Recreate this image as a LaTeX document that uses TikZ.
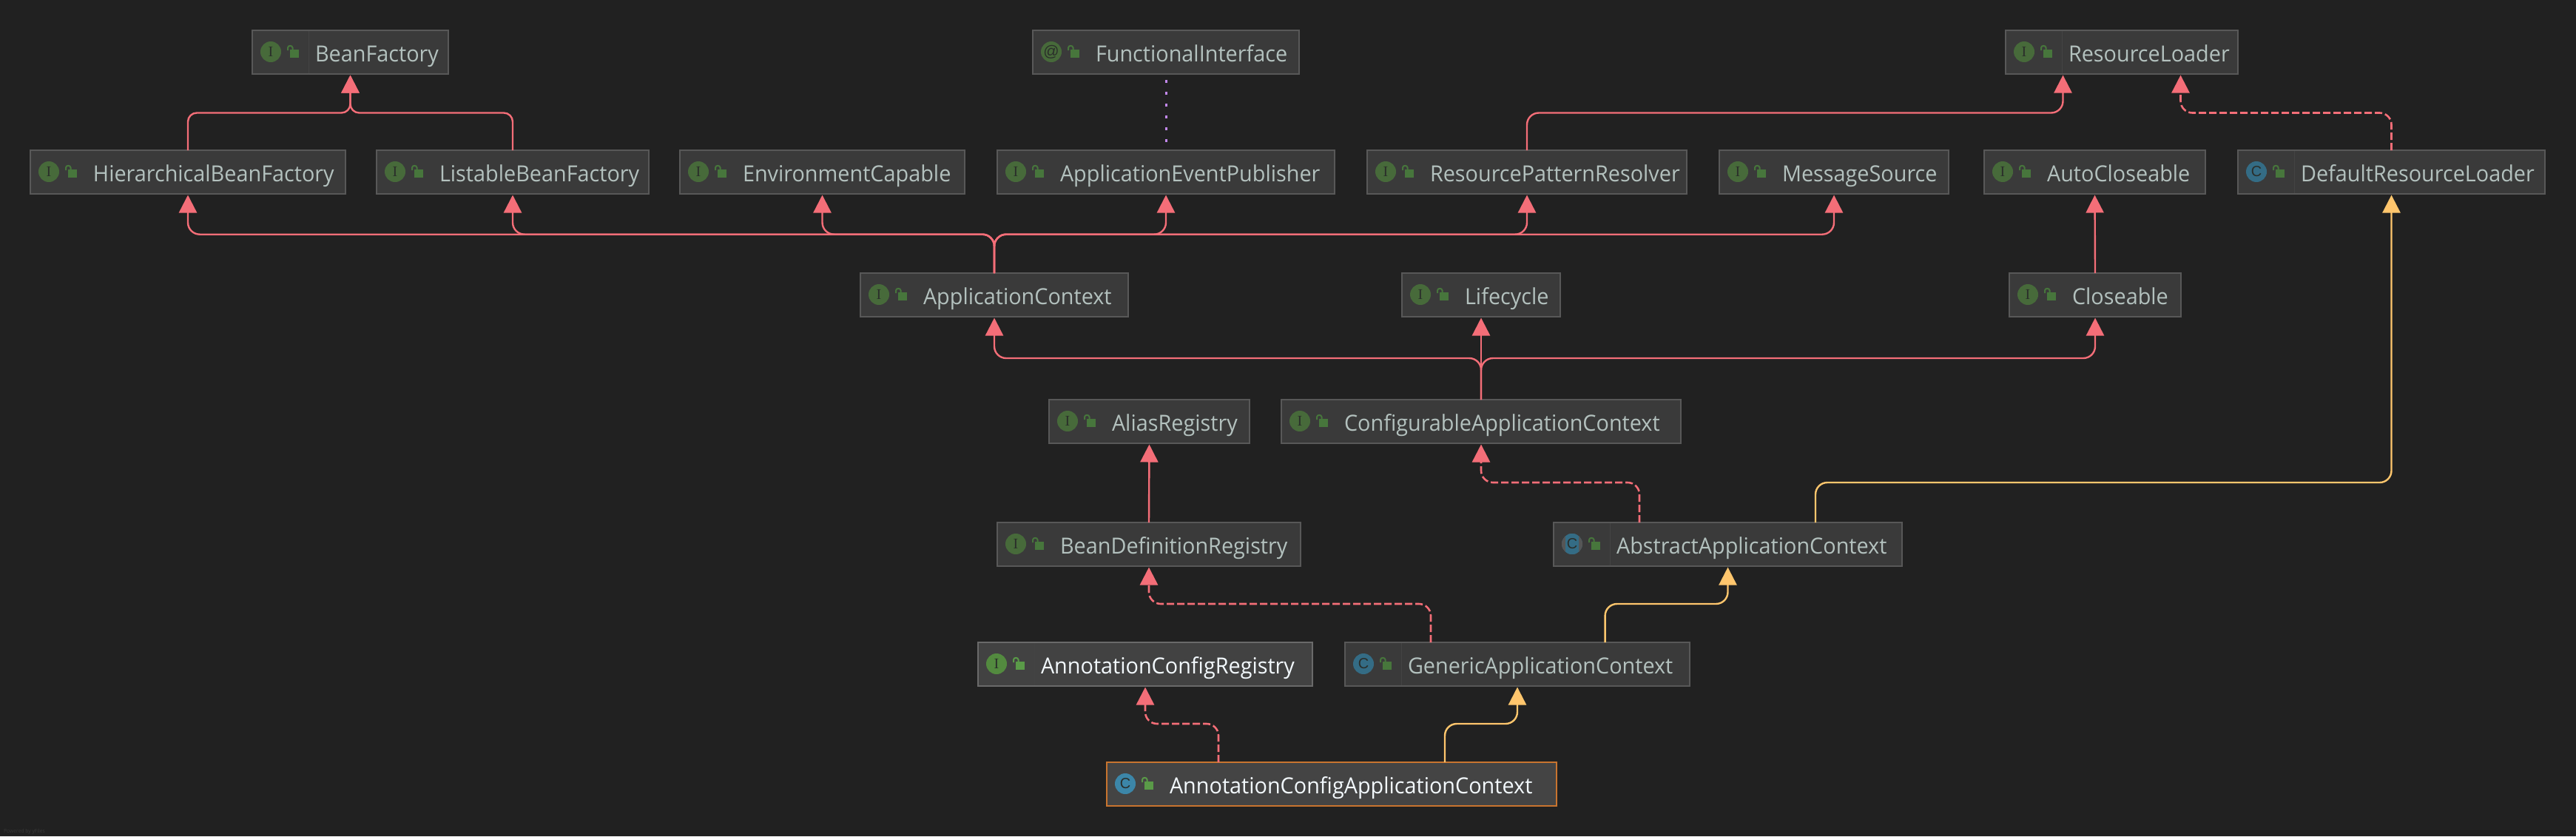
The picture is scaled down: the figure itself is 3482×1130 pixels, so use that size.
\documentclass[tikz,border=0pt]{standalone}
\usepackage{fontspec}
\setmainfont{Open Sans}[FakeStretch=0.96]
\newfontfamily\iconfont{Liberation Serif}
\newfontfamily\iconsans{Liberation Sans}
\usetikzlibrary{arrows.meta}
\definecolor{bgc}{HTML}{212121}
\definecolor{boxf}{HTML}{3A3A3A}
\definecolor{boxd}{HTML}{585858}
\definecolor{boxfs}{HTML}{424242}
\definecolor{boxds}{HTML}{6A6A6A}
\definecolor{boxfa}{HTML}{444444}
\definecolor{boxda}{HTML}{C8742F}
\definecolor{txt}{HTML}{B3C1BE}
\definecolor{txts}{HTML}{F2F8FC}
\definecolor{divl}{HTML}{444444}
\definecolor{igreen}{HTML}{476A3A}
\definecolor{igreens}{HTML}{538A3F}
\definecolor{iblue}{HTML}{346C85}
\definecolor{iblues}{HTML}{3C86A8}
\definecolor{lockg}{HTML}{47763C}
\definecolor{locks}{HTML}{5A9A48}
\definecolor{glyph}{HTML}{2A2E2A}
\definecolor{edgered}{HTML}{F46E78}
\definecolor{edgeyel}{HTML}{FFC66D}
\definecolor{edgepur}{HTML}{C288EC}
\tikzset{
  x=1pt,y=-1pt,
  klassbox/.style={rectangle,draw=boxd,fill=boxf,line width=2pt,inner sep=0pt,outer sep=0pt,text=txt,anchor=north west,font=\fontsize{30}{30}\selectfont},
  klasssel/.style={klassbox,draw=boxds,fill=boxfs,text=txts},
  klassact/.style={klassbox,draw=boxda,fill=boxfa,text=txts},
  iconnode/.style={circle,inner sep=0pt,minimum size=28pt,text=glyph},
  extends/.style={draw=edgered,line width=2.4pt,rounded corners=16pt,-{Triangle[length=24pt,width=24pt,fill=edgered]},shorten >=1.5pt},
  implements/.style={extends,line width=2.6pt,dash pattern=on 10pt off 4pt},
  yellowedge/.style={extends,draw=edgeyel,-{Triangle[length=24pt,width=24pt,fill=edgeyel]}},
  annotedge/.style={draw=edgepur,line width=3pt,dash pattern=on 4pt off 12pt,dash phase=8.5pt,shorten >=7pt}
}
% #1 name, #2 x1, #3 x2, #4 y top, #5 style, #6 icon colour, #7 lock colour, #8 glyph, #9 text
\newcommand\klass[9]{%
  \pgfmathsetmacro\kw{#3-#2-2}%
  \begin{scope}[shift={(#2,#4)}]
    \node[#5,minimum width=\kw pt,minimum height=59pt] (#1) at (1,1)
      {\makebox[\kw pt][l]{\rule[-17pt]{0pt}{59pt}\hspace{85pt}#9}};
    \node[iconnode,fill=#6] (#1-icon) at (26,30) {#8};
    \fill[#7] (52,27) rectangle (64,38);
    \draw[#7,line width=2pt] (49,28) -- (49,24.5) .. controls (49,21) and (55.5,21) .. (55.5,24.5) -- (55.5,27);
  \end{scope}}
\newcommand\gI{\iconfont\fontsize{20}{20}\selectfont I}
\newcommand\gC{\iconsans\fontsize{20}{20}\selectfont C}
\newcommand\gA{\iconsans\fontsize{21}{21}\selectfont @}
\begin{document}
\begin{tikzpicture}
\fill[bgc] (0,0) rectangle (3482,1130);
\useasboundingbox (0,0) rectangle (3482,1130);
% row 1
\klass{bean}{340}{607}{40}{klassbox}{igreen}{lockg}{\gI}{BeanFactory}
\klass{func}{1395}{1757}{40}{klassbox}{igreen}{lockg}{\gA}{FunctionalInterface}
\klass{rload}{2710}{3026}{40}{klassbox}{igreen}{lockg}{\gI}{ResourceLoader}
% row 2
\klass{hier}{40}{468}{202}{klassbox}{igreen}{lockg}{\gI}{HierarchicalBeanFactory}
\klass{list}{508}{878}{202}{klassbox}{igreen}{lockg}{\gI}{ListableBeanFactory}
\klass{env}{918}{1305}{202}{klassbox}{igreen}{lockg}{\gI}{EnvironmentCapable}
\klass{aep}{1347}{1805}{202}{klassbox}{igreen}{lockg}{\gI}{ApplicationEventPublisher}
\klass{rpr}{1847}{2281}{202}{klassbox}{igreen}{lockg}{\gI}{ResourcePatternResolver}
\klass{msg}{2323}{2635}{202}{klassbox}{igreen}{lockg}{\gI}{MessageSource}
\klass{auto}{2681}{2982}{202}{klassbox}{igreen}{lockg}{\gI}{AutoCloseable}
\klass{drl}{3024}{3441}{202}{klassbox}{iblue}{lockg}{\gC}{DefaultResourceLoader}
% row 3
\klass{actx}{1162}{1526}{368}{klassbox}{igreen}{lockg}{\gI}{ApplicationContext}
\klass{life}{1894}{2110}{368}{klassbox}{igreen}{lockg}{\gI}{Lifecycle}
\klass{close}{2715}{2949}{368}{klassbox}{igreen}{lockg}{\gI}{Closeable}
% row 4
\klass{alias}{1417}{1690}{539}{klassbox}{igreen}{lockg}{\gI}{AliasRegistry}
\klass{conf}{1731}{2273}{539}{klassbox}{igreen}{lockg}{\gI}{ConfigurableApplicationContext}
% row 5
\klass{bdr}{1347}{1759}{705}{klassbox}{igreen}{lockg}{\gI}{BeanDefinitionRegistry}
\klass{aac}{2099}{2572}{705}{klassbox}{iblue}{lockg}{\gC}{AbstractApplicationContext}
% row 6
\klass{acr}{1321}{1775}{867}{klasssel}{igreens}{locks}{\gI}{AnnotationConfigRegistry}
\klass{gac}{1817}{2285}{867}{klassbox}{iblue}{lockg}{\gC}{GenericApplicationContext}
% row 7
\klass{acac}{1495}{2105}{1029}{klassact}{iblues}{locks}{\gC}{AnnotationConfigApplicationContext}
% dividers
\foreach \n in {bean,rload,drl,aac,acr,gac}{
  \draw[divl,line width=1pt] ([xshift=76pt,yshift=-1pt]\n.north west) -- ([xshift=76pt,yshift=1pt]\n.south west);}
% abstract badge ring
\begin{scope}
  \fill[boxf!60!gray] (aac-icon) circle (14pt);
  \clip ([xshift=-9pt,yshift=-14pt]aac-icon.center) rectangle ([xshift=9pt,yshift=14pt]aac-icon.center);
  \fill[iblue] (aac-icon) circle (14pt);
\end{scope}
\node[iconnode] at (aac-icon) {\gC};
% levels and docking points
\coordinate (lvA) at (0,152.5);
\coordinate (lvB) at (0,316.7);
\coordinate (lvC) at (0,484);
\coordinate (lvD) at (0,652);
\coordinate (lvE) at (0,816);
\coordinate (lvF) at (0,978);
\coordinate (rloadL) at (2788.5,100);
\coordinate (rloadR) at (2947.5,100);
\coordinate (aacL) at (2216,706);
\coordinate (aacR) at (2454,706);
\coordinate (gacL) at (1934,868);
\coordinate (gacR) at (2169.6,868);
\coordinate (acacL) at (1647,1030);
\coordinate (acacR) at (1953,1030);
% connectors
\draw[extends,rounded corners=12pt] (hier.north) -- (hier.north |- lvA) -- (bean.south |- lvA) -- (bean.south);
\draw[extends,rounded corners=12pt] (list.north) -- (list.north |- lvA) -- (bean.south |- lvA) -- (bean.south);
\draw[annotedge] (func.south) -- (aep.north);
\draw[extends] (rpr.north) -- (rpr.north |- lvA) -- (rloadL |- lvA) -- (rloadL);
\draw[implements] (drl.north) -- (drl.north |- lvA) -- (rloadR |- lvA) -- (rloadR);
\foreach \t in {hier,list,env,aep,rpr,msg}{
  \draw[extends] (actx.north) -- (actx.north |- lvB) -- (\t.south |- lvB) -- (\t.south);}
\draw[extends] (close.north) -- (auto.south);
\foreach \t in {actx,close}{
  \draw[extends] (conf.north) -- (conf.north |- lvC) -- (\t.south |- lvC) -- (\t.south);}
\draw[extends] (conf.north) -- (life.south);
\draw[extends] (bdr.north) -- (alias.south);
\draw[implements] (aacL) -- (aacL |- lvD) -- (conf.south |- lvD) -- (conf.south);
\draw[yellowedge] (aacR) -- (aacR |- lvD) -- (drl.south |- lvD) -- (drl.south);
\draw[implements] (gacL) -- (gacL |- lvE) -- (bdr.south |- lvE) -- (bdr.south);
\draw[yellowedge] (gacR) -- (gacR |- lvE) -- (aac.south |- lvE) -- (aac.south);
\draw[implements] (acacL) -- (acacL |- lvF) -- (acr.south |- lvF) -- (acr.south);
\draw[yellowedge] (acacR) -- (acacR |- lvF) -- (gac.south |- lvF) -- (gac.south);
\node[anchor=base west,inner sep=0pt,text=boxf,font=\fontsize{7}{7}\selectfont] (credit) at (5,1125) {Powered by yFiles};
\end{tikzpicture}
\end{document}
